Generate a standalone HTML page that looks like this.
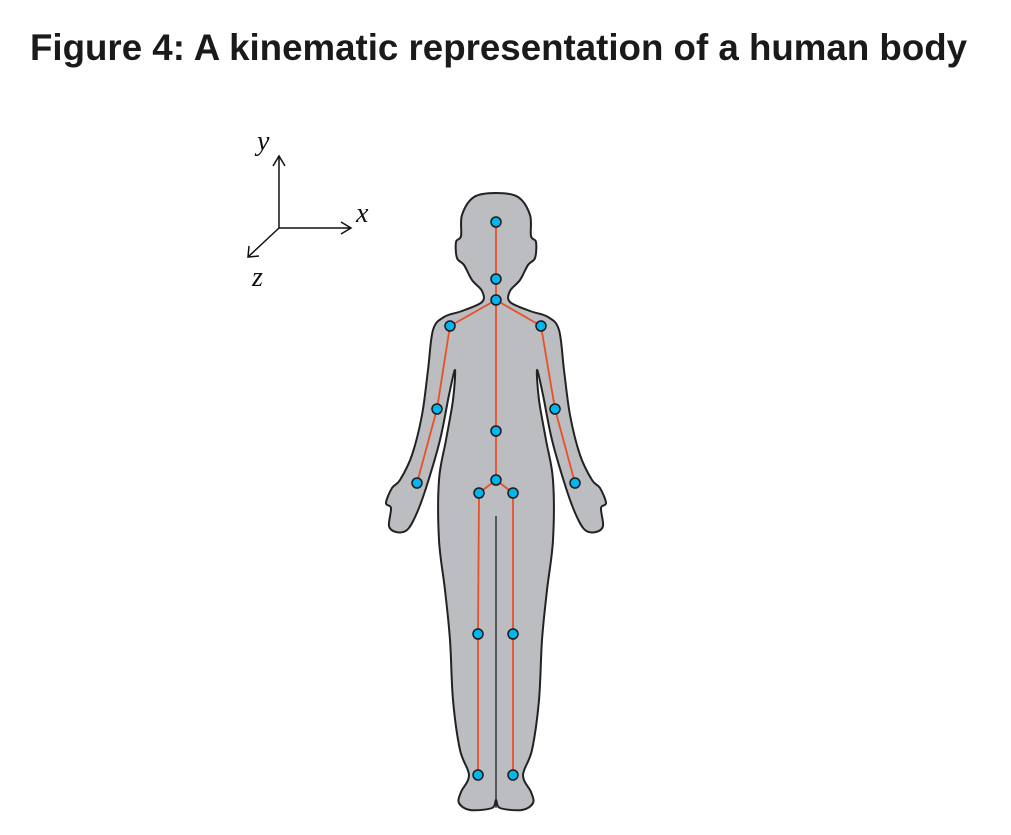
<!DOCTYPE html>
<html><head><meta charset="utf-8"><style>
body{margin:0;background:#fff;width:1011px;height:835px;overflow:hidden}
h1{position:absolute;left:30px;top:27px;margin:0;font:bold 36.7px "Liberation Sans",sans-serif;color:#1a1a1a;white-space:nowrap}
</style></head><body>
<h1>Figure 4: A kinematic representation of a human body</h1>
<svg width="1011" height="835" style="position:absolute;left:0;top:0">
<g stroke="#111" stroke-width="1.5" fill="none">
<line x1="279" y1="228" x2="279" y2="156"/><polyline points="273,166 279,156 285,166"/>
<line x1="279" y1="228" x2="351" y2="228"/><polyline points="341,222 351,228 341,234"/>
<line x1="279" y1="228" x2="248" y2="257"/><polyline points="249,246 248,257 259,256"/>
</g>
<g font-family="Liberation Serif,serif" font-style="italic" font-size="28" fill="#111">
<text x="257" y="150">y</text>
<text x="356" y="222">x</text>
<text x="252" y="286">z</text>
</g>
<path id="body" fill="#bcbdc0" stroke="#222" stroke-width="2" stroke-linejoin="round"/>
<line x1="496" y1="516" x2="496" y2="808" stroke="#222" stroke-width="1.3"/>
<g id="skel"></g>
</svg>
<script>
const right=[[496,193],[518,197],[530,215],[531,236],[536,242],[535,258],[528,265],[520,280],[510,291],[510,302],[530,311],[548,317],[559,330],[564,370],[570,415],[580,455],[592,480],[600,488],[606,503],[601,508],[603,526],[596,532],[585,530],[576,515],[566,488],[552,440],[543,395],[537,370],[539,400],[546,440],[553,480],[553,540],[547,590],[542,640],[539,700],[532,750],[523,775],[531,792],[533,803],[522,810],[500,808],[496,800]];
const left=right.slice(1,-1).reverse().map(p=>[992-p[0],p[1]]);
const pts=right.concat(left);
function smooth(p){const n=p.length;let d='M'+p[0].join(',');
for(let i=0;i<n;i++){const p0=p[(i-1+n)%n],p1=p[i],p2=p[(i+1)%n],p3=p[(i+2)%n];
const c1=[p1[0]+(p2[0]-p0[0])/6,p1[1]+(p2[1]-p0[1])/6],c2=[p2[0]-(p3[0]-p1[0])/6,p2[1]-(p3[1]-p1[1])/6];
d+=' C'+c1.join(',')+' '+c2.join(',')+' '+p2.join(',');}
return d+'Z';}
document.getElementById('body').setAttribute('d',smooth(pts));
const joints={head:[496,222],neck:[496,279],chest:[496,300],lsh:[450,326],rsh:[541,326],lel:[437,409],rel:[555,409],lwr:[417,483],rwr:[575,483],spine:[496,431],pelvis:[496,480],lhip:[479,493],rhip:[513,493],lkn:[478,634],rkn:[513,634],lan:[478,775],ran:[513,775]};
const bones=[['head','neck'],['neck','chest'],['chest','lsh'],['chest','rsh'],['lsh','lel'],['lel','lwr'],['rsh','rel'],['rel','rwr'],['chest','spine'],['spine','pelvis'],['pelvis','lhip'],['pelvis','rhip'],['lhip','lkn'],['lkn','lan'],['rhip','rkn'],['rkn','ran']];
const g=document.getElementById('skel'),NS='http://www.w3.org/2000/svg';
bones.forEach(b=>{const l=document.createElementNS(NS,'line');const a=joints[b[0]],c=joints[b[1]];
l.setAttribute('x1',a[0]);l.setAttribute('y1',a[1]);l.setAttribute('x2',c[0]);l.setAttribute('y2',c[1]);
l.setAttribute('stroke','#e8502a');l.setAttribute('stroke-width','1.8');


g.appendChild(l);});
Object.keys(joints).forEach(k=>{const c=document.createElementNS(NS,'circle');
c.setAttribute('cx',joints[k][0]);c.setAttribute('cy',joints[k][1]);c.setAttribute('r','5');
c.setAttribute('fill','#00b6ef');c.setAttribute('stroke','#1a1a1a');c.setAttribute('stroke-width','1.5');


g.appendChild(c);});
</script>
</body></html>
